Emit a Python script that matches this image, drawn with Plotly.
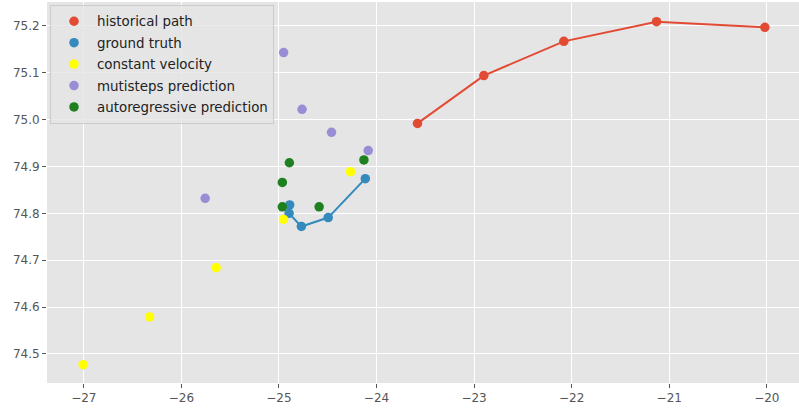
import plotly.graph_objects as go

# --- data ---
hist_x = [-20.02, -21.13, -22.08, -22.90, -23.58]
hist_y = [75.197, 75.209, 75.167, 75.094, 74.992]

gt_x = [-24.115, -24.495, -24.77, -24.896, -24.89]
gt_y = [74.874, 74.791, 74.772, 74.800, 74.818]

cv_x = [-24.266, -24.953, -25.643, -26.325, -27.007]
cv_y = [74.889, 74.787, 74.684, 74.579, 74.477]

ms_x = [-24.085, -24.461, -24.763, -24.952, -25.756]
ms_y = [74.934, 74.973, 75.022, 75.143, 74.832]

ar_x = [-24.129, -24.893, -24.965, -24.965, -24.588]
ar_y = [74.914, 74.908, 74.866, 74.814, 74.814]

x_ticks = [-27, -26, -25, -24, -23, -22, -21, -20]
y_ticks = [74.5, 74.6, 74.7, 74.8, 74.9, 75.0, 75.1, 75.2]

RED = "#E24A33"
BLUE = "#348ABD"
YELLOW = "#FFFF00"
PURPLE = "#988ED5"
GREEN = "#1f801f"

fig = go.Figure()

# lines (no legend)
fig.add_trace(go.Scatter(x=hist_x, y=hist_y, mode="lines",
                         line=dict(color=RED, width=2), showlegend=False, hoverinfo="skip"))
fig.add_trace(go.Scatter(x=gt_x, y=gt_y, mode="lines",
                         line=dict(color=BLUE, width=2), showlegend=False, hoverinfo="skip"))

MS = 9.5
series = [
    ("historical path", hist_x, hist_y, RED),
    ("ground truth", gt_x, gt_y, BLUE),
    ("constant velocity", cv_x, cv_y, YELLOW),
    ("mutisteps prediction", ms_x, ms_y, PURPLE),
    ("autoregressive prediction", ar_x, ar_y, GREEN),
]
for i, (name, xs, ys, c) in enumerate(series):
    fig.add_trace(go.Scatter(x=xs, y=ys, mode="markers", name=name,
                             legendgroup=f"g{i}",
                             marker=dict(color=c, size=MS, line=dict(width=0))))

axis_common = dict(
    showgrid=True, gridcolor="white", gridwidth=1,
    zeroline=False, showline=False,
    ticks="outside", ticklen=4, tickwidth=1, tickcolor="#555555",
    tickfont=dict(family="DejaVu Sans", size=12, color="#555555"),
)

fig.update_layout(
    width=799, height=415,
    margin=dict(l=47, r=0, t=2, b=32),
    paper_bgcolor="white",
    plot_bgcolor="#E5E5E5",
    font=dict(family="DejaVu Sans", size=12, color="#222222"),
    xaxis=dict(range=[-27.377, -19.67], tickvals=x_ticks, **axis_common),
    yaxis=dict(range=[74.438, 75.251], tickvals=y_ticks, tickformat=".1f", **axis_common),
    legend=dict(x=0.004, y=0.992, xanchor="left", yanchor="top",
                bgcolor="rgba(229,229,229,0.8)", bordercolor="#CCCCCC", borderwidth=1,
                font=dict(family="DejaVu Sans", size=13.4, color="#222222"),
                itemwidth=36,
                tracegroupgap=1, traceorder="grouped"),
)

fig.write_html(
    "out.html",
    config={"displayModeBar": False},
    post_script="document.body.style.margin='0';document.body.style.overflow='hidden';",
)
